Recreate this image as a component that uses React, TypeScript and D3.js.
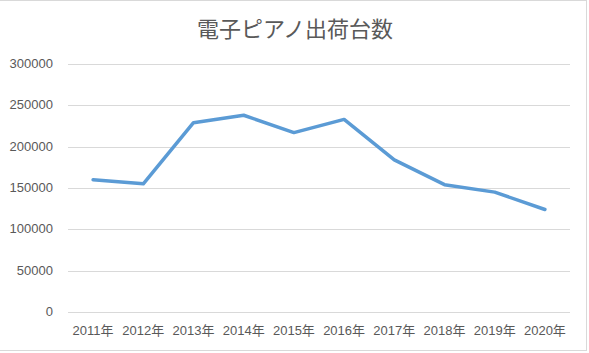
import { useRef, useEffect } from 'react'
import * as d3 from 'd3'

const YEARS = ['2011年', '2012年', '2013年', '2014年', '2015年', '2016年', '2017年', '2018年', '2019年', '2020年']
const SHIPMENTS = [160000, 155000, 229000, 238000, 217000, 233000, 184000, 154000, 145000, 124000]
const Y_TICKS = [0, 50000, 100000, 150000, 200000, 250000, 300000]
const TITLE = '電子ピアノ出荷台数'

const FONT = "'Liberation Sans','Noto Sans CJK JP',sans-serif"
const TEXT_COLOR = '#595959'

export default function App() {
  const svgRef = useRef<SVGSVGElement>(null)

  useEffect(() => {
    const svg = svgRef.current
    if (!svg) return
    document.body.style.margin = '0'

    const W = 589
    const H = 353
    const margin = { top: 64, right: 19, bottom: 41, left: 68 }
    const iW = W - margin.left - margin.right
    const iH = H - margin.top - margin.bottom

    const sel = d3.select(svg)
    sel.selectAll('*').remove()
    sel.attr('width', W).attr('height', H)

    // chart frame (left edge falls outside the crop, as in the screenshot)
    sel.append('rect')
      .attr('x', -0.5).attr('y', 0.5)
      .attr('width', W - 2).attr('height', H - 3)
      .attr('fill', '#fff').attr('stroke', '#d9d9d9').attr('stroke-width', 1)

    sel.append('text')
      .attr('x', 295).attr('y', 31)
      .attr('text-anchor', 'middle').attr('dominant-baseline', 'middle')
      .attr('fill', TEXT_COLOR).attr('font-size', '22px')
      .attr('font-family', FONT)
      .text(TITLE)

    const g = sel.append('g').attr('transform', `translate(${margin.left},${margin.top})`)

    const x = d3.scaleBand().domain(YEARS).range([0, iW])
    const y = d3.scaleLinear().domain([0, 300000]).range([iH, 0])

    Y_TICKS.forEach((t) => {
      const yy = Math.round(y(t)) + 0.5
      g.append('line')
        .attr('x1', 0).attr('x2', iW)
        .attr('y1', yy).attr('y2', yy)
        .attr('stroke', '#d9d9d9').attr('stroke-width', 1)
      g.append('text')
        .attr('x', -15).attr('y', yy)
        .attr('text-anchor', 'end').attr('dominant-baseline', 'middle')
        .attr('fill', TEXT_COLOR).attr('font-size', '13px')
        .attr('font-family', FONT)
        .text(t)
    })

    YEARS.forEach((yr) => {
      g.append('text')
        .attr('x', (x(yr) ?? 0) + x.bandwidth() / 2).attr('y', iH + 20)
        .attr('text-anchor', 'middle').attr('dominant-baseline', 'middle')
        .attr('fill', TEXT_COLOR).attr('font-size', '13px')
        .attr('font-family', FONT)
        .text(yr)
    })

    const line = d3.line<number>()
      .x((_, i) => (x(YEARS[i]) ?? 0) + x.bandwidth() / 2)
      .y((d) => y(d))

    g.append('path')
      .datum(SHIPMENTS)
      .attr('fill', 'none')
      .attr('stroke', '#5b9bd5')
      .attr('stroke-width', 3.5)
      .attr('stroke-linejoin', 'round')
      .attr('stroke-linecap', 'round')
      .attr('d', line)
  }, [])

  return <svg ref={svgRef} style={{ display: 'block' }} />
}
